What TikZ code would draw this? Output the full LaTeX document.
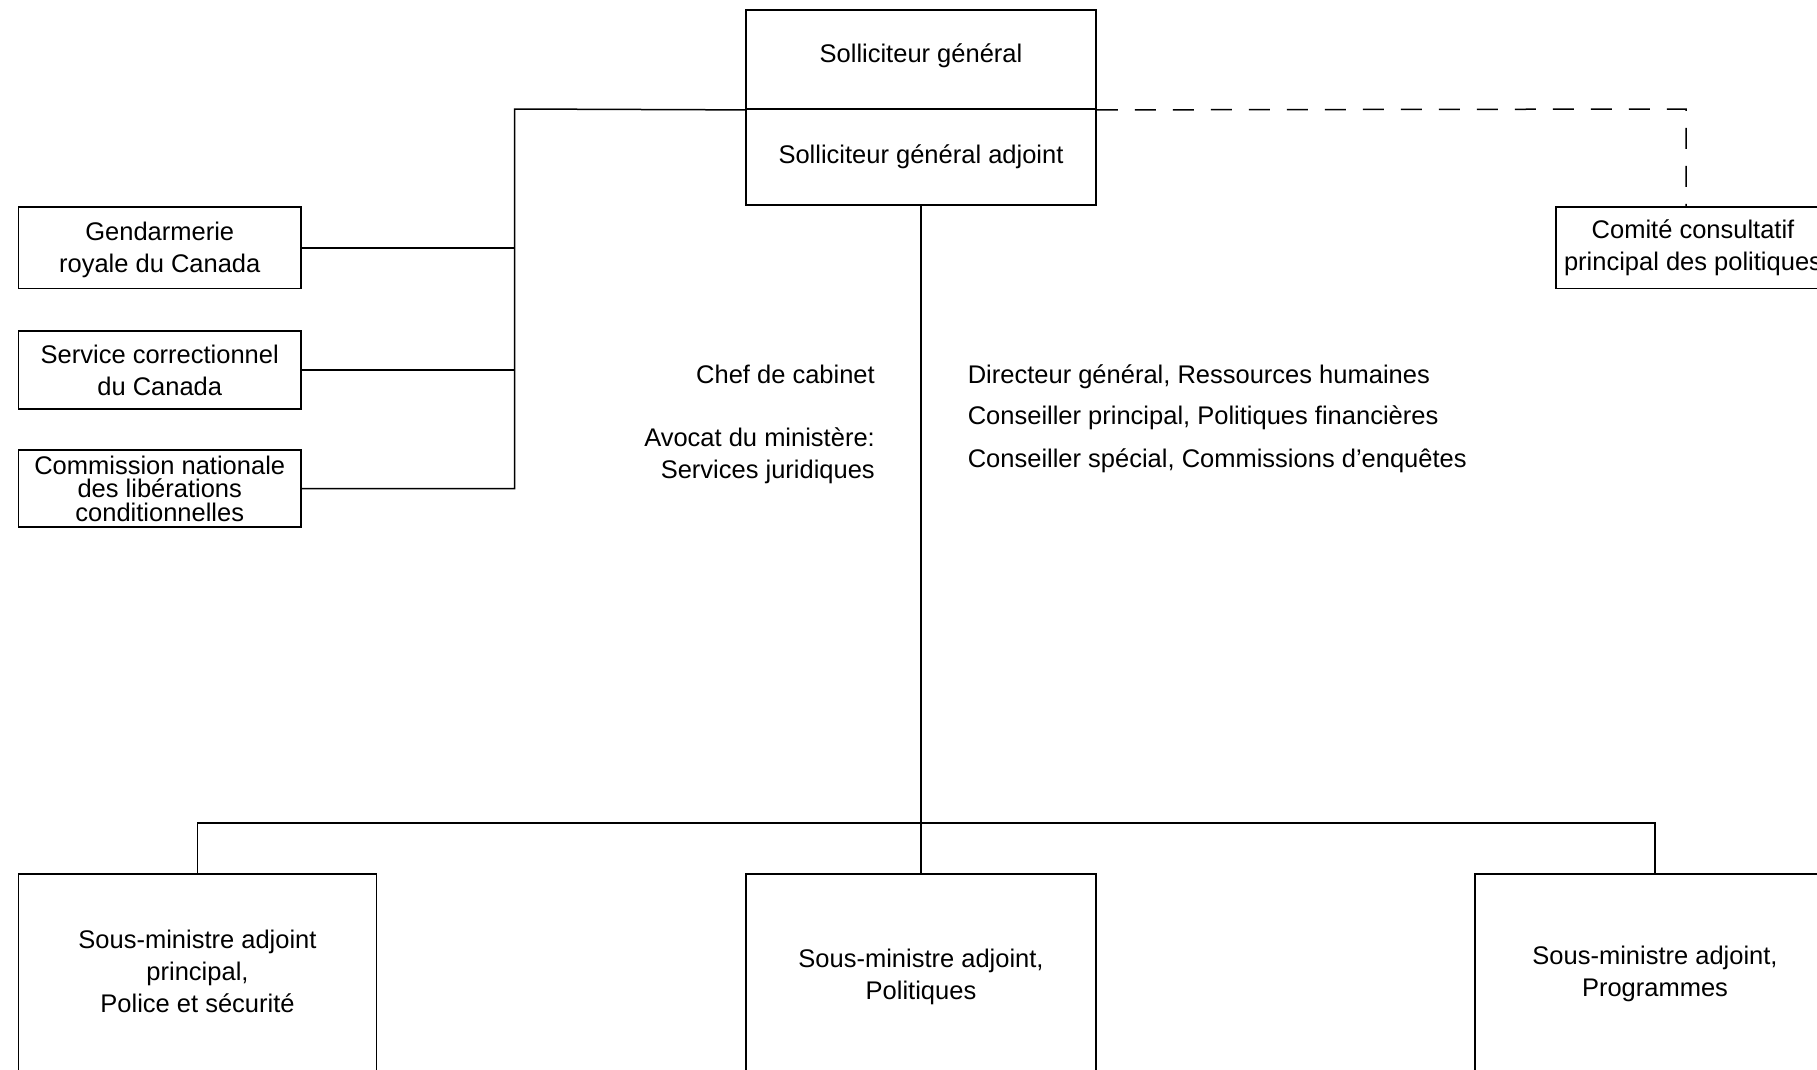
\documentclass[tikz,border=0pt]{standalone}
\usepackage{fontspec}
\setmainfont{Liberation Sans}
\newcommand\dfont{\fontsize{25.5}{32}\selectfont}
\newcommand\cnfont{\fontsize{25.5}{23.5}\selectfont}
\begin{document}
\begin{tikzpicture}[x=1pt,y=-1pt,
  box/.style={draw,line width=1.8pt,inner sep=0pt,align=center,font=\dfont},
  lbl/.style={inner sep=0pt,font=\dfont},
  conn/.style={line width=1.5pt}]
\useasboundingbox (0,0) rectangle (1817,1069);
\clip (0,0) rectangle (1817,1069);
% top boxes
\node[box,minimum width=350pt,minimum height=99pt,text depth=12.4pt] (sg) at (921,59.5) {Solliciteur général};
\node[box,minimum width=350pt,minimum height=96pt] (sga) at (921,157) {Solliciteur général adjoint};
% left boxes
\node[box,minimum width=282.5pt,minimum height=81.5pt,text depth=0pt] (grc) at (159.75,247.75) {Gendarmerie\\royale du Canada};
\node[box,minimum width=282.5pt,minimum height=78pt] (scc) at (159.75,370) {Service correctionnel\\du Canada};
\node[box,minimum width=282.5pt,minimum height=77pt,font=\cnfont] (cnlc) at (159.75,488.5) {Commission nationale\\des libérations\\conditionnelles};
% right box
\node[box,minimum width=274pt,minimum height=81.5pt] (com) at (1693,247.75) {Comité consultatif\\principal des politiques};
% bottom boxes
\node[box,minimum width=358pt,minimum height=200pt,text depth=4.6pt] (psm) at (197.5,974) {Sous-ministre adjoint\\principal,\\Police et sécurité};
\node[box,minimum width=350pt,minimum height=200pt,text depth=0pt] (pol) at (921,974) {Sous-ministre adjoint,\\Politiques};
\node[box,minimum width=360pt,minimum height=200pt] (prog) at (1655,974) {Sous-ministre adjoint,\\Programmes};
% labels
\node[lbl,anchor=east] (chef) at (875,374) {Chef de cabinet};
\node[lbl,anchor=east,align=right] (avo) at (875,456) {Avocat du ministère:\\Services juridiques};
\node[lbl,anchor=west] (dg) at (967.6,377) {Directeur général, Ressources humaines};
\node[lbl,anchor=west] (cp) at (967.6,418) {Conseiller principal, Politiques financières};
\node[lbl,anchor=west] (cs) at (967.6,460.5) {Conseiller spécial, Commissions d’enquêtes};
% connectors
\coordinate (lj) at (514.5,109);
\draw[conn] (sg.south west) -- (lj) |- (cnlc.east);
\draw[conn] (grc.east) -- (grc.east -| lj);
\draw[conn] (scc.east) -- (scc.east -| lj);
\coordinate (dj) at (1686,109);
\draw[conn,dash pattern=on 21pt off 17pt] (sg.south east) -- (dj) -- (dj |- com.north);
\coordinate (bus) at (921,823);
\draw[conn] (sga.south) -- (pol.north);
\draw[conn] (psm.north) |- (bus) -| (prog.north);
\end{tikzpicture}
\end{document}
